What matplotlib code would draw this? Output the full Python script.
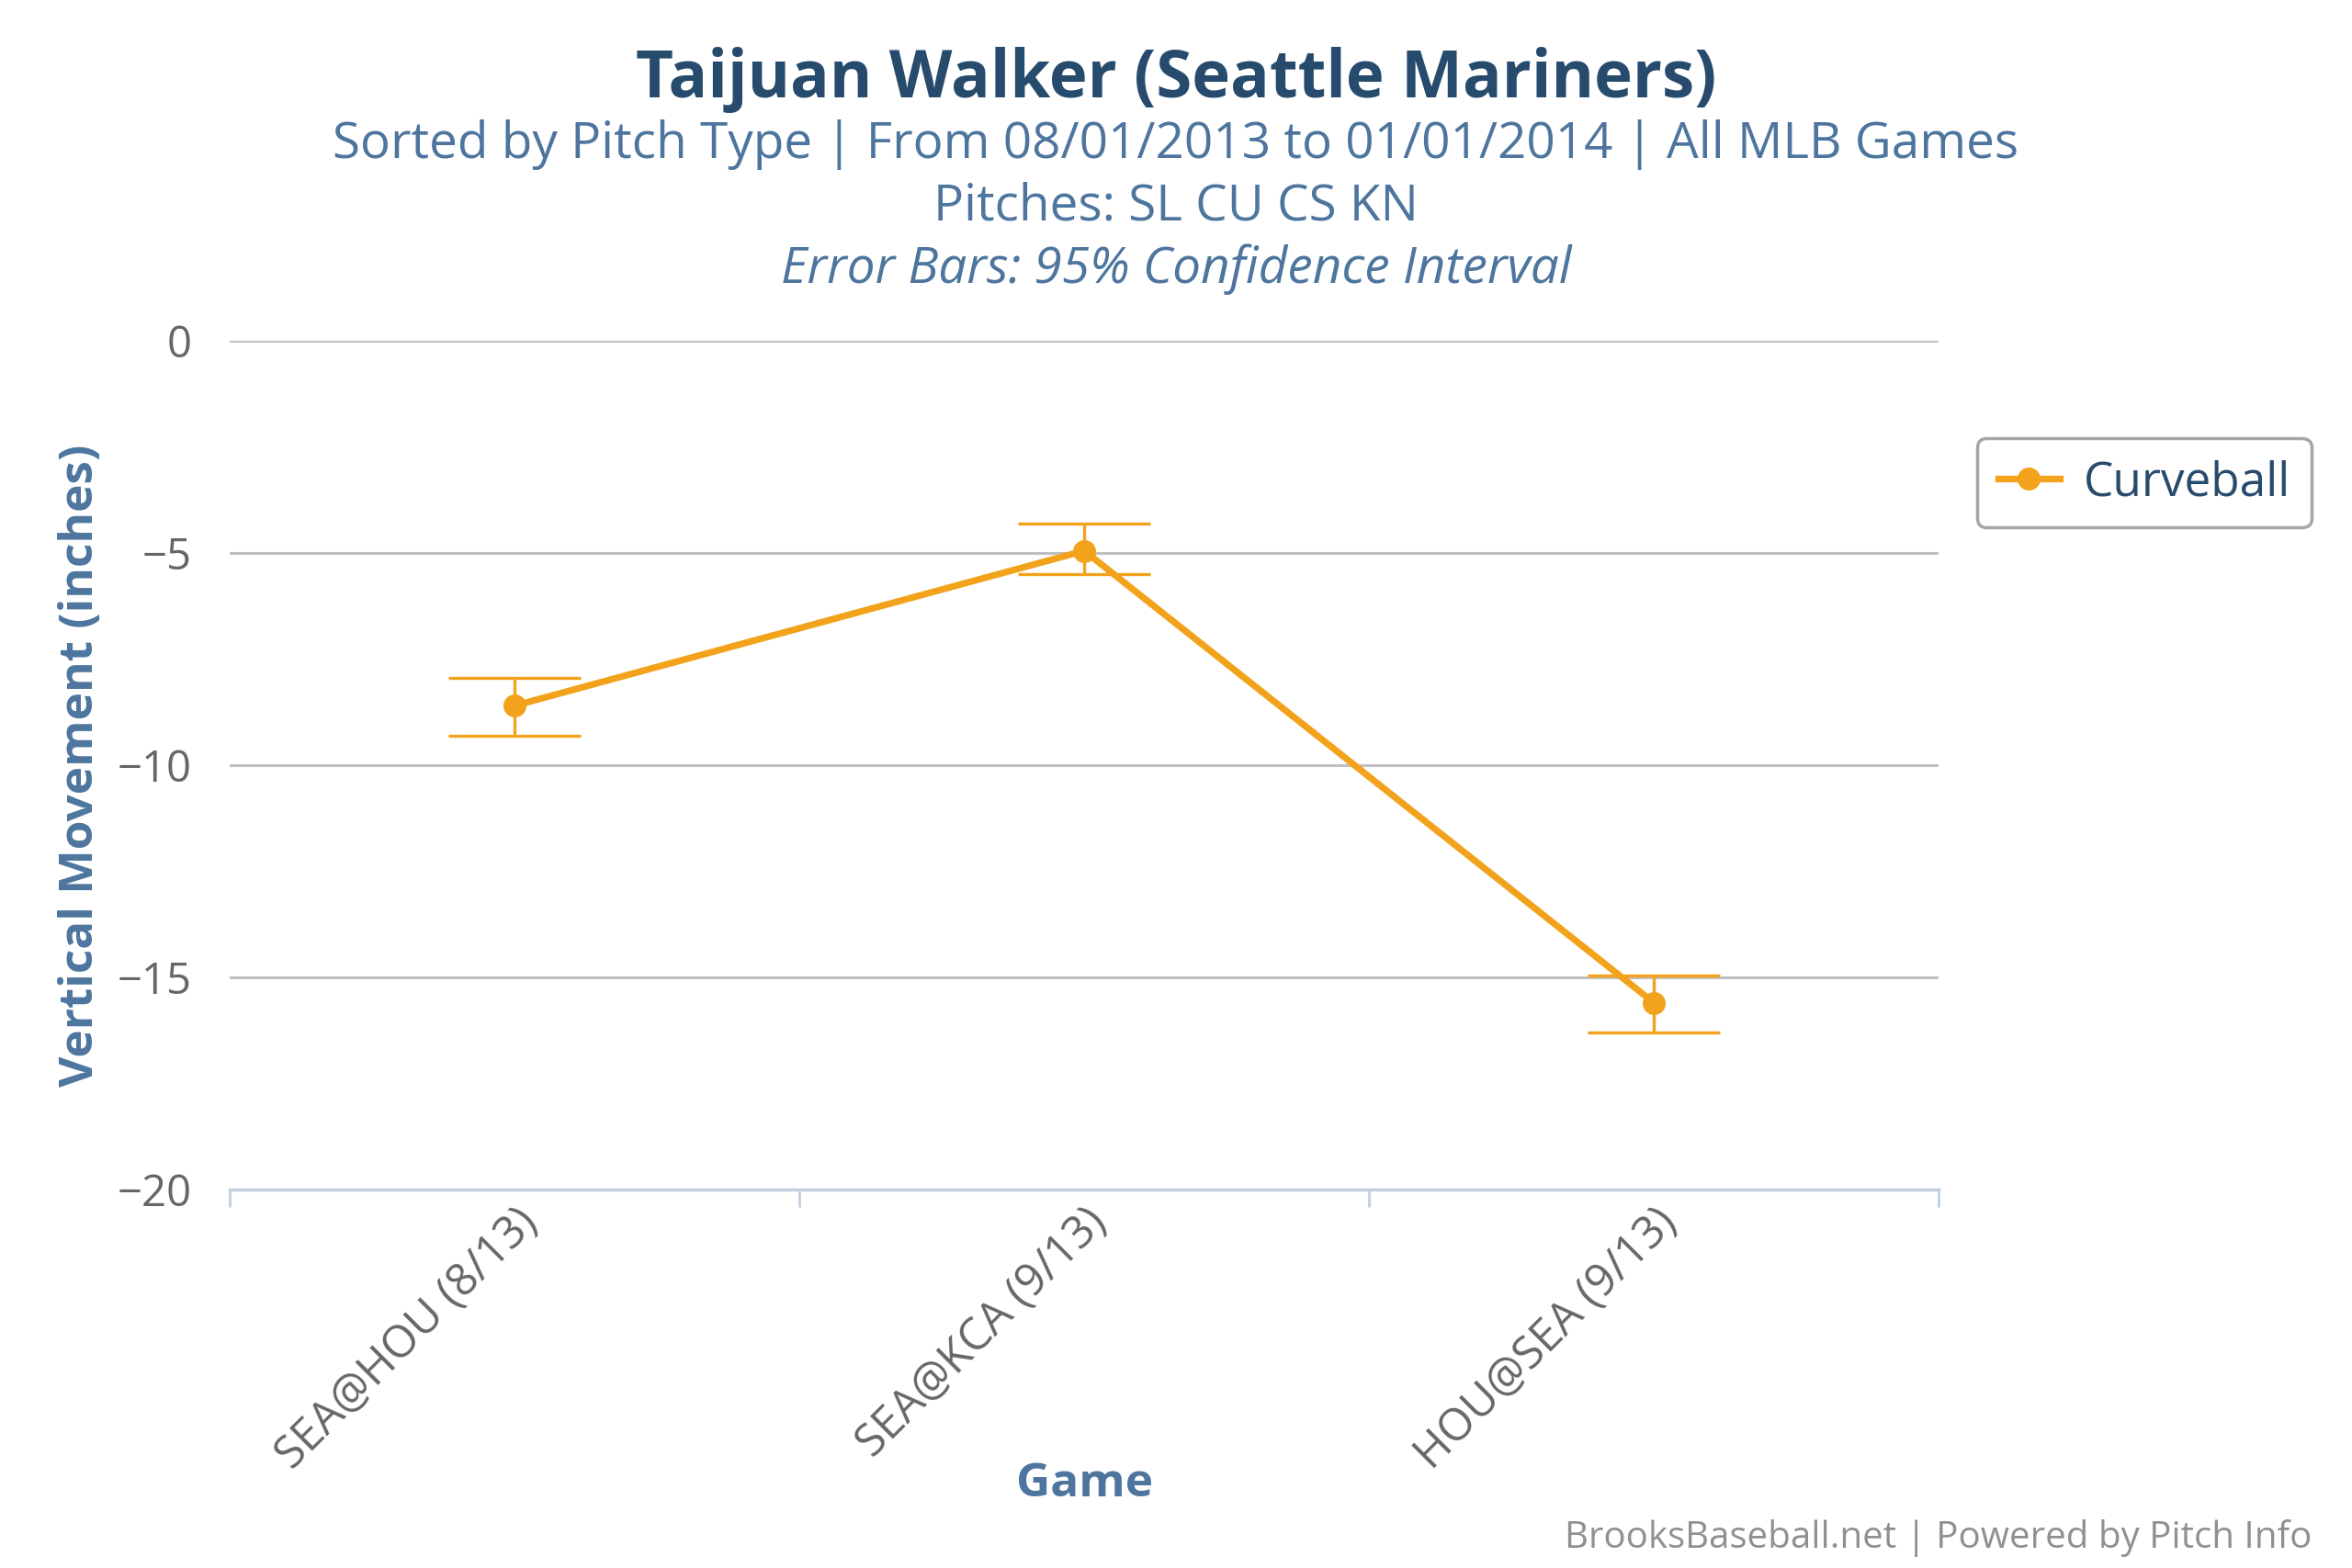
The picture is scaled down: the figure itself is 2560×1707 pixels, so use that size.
import matplotlib
matplotlib.use("Agg")
import matplotlib.pyplot as plt
import numpy as np

# data
games = ["SEA@HOU (8/13)", "SEA@KCA (9/13)", "HOU@SEA (9/13)"]
curveball = [-8.6, -4.95, -15.6]
ci_low = [-9.3, -5.5, -16.3]
ci_high = [-7.95, -4.3, -14.95]

orange = "#f2a31b"
dark_blue = "#274b6d"
mid_blue = "#4d759e"

plt.rcParams["font.family"] = ["Open Sans", "DejaVu Sans"]

fig = plt.figure(figsize=(25.6, 17.07), dpi=100)
ax = fig.add_axes([0.0977, 0.2414, 0.7266, 0.5413])

x = np.arange(len(games))
y = np.array(curveball)
yerr = [y - np.array(ci_low), np.array(ci_high) - y]

ax.errorbar(x, y, yerr=yerr, fmt="none", ecolor=orange, elinewidth=2.4,
            capsize=52, capthick=2.4, zorder=3)
ax.plot(x, y, color=orange, lw=5.2, marker="o", markersize=17,
        label="Curveball", zorder=4)

ax.set_xlim(-0.5, len(games) - 0.5)
ax.set_ylim(-20, 0)
ax.set_yticks([0, -5, -10, -15, -20])
ax.set_yticklabels(["0", "\u22125", "\u221210", "\u221215", "\u221220"])
ax.yaxis.grid(True, color="#c0c0c0", lw=2.2)
ax.set_axisbelow(True)

# category boundary ticks on the x axis
ax.set_xticks(np.arange(len(games) + 1) - 0.5, minor=False)
ax.set_xticklabels([])
ax.set_xticks(x, minor=True)
ax.set_xticklabels(games, minor=True, rotation=45, ha="right",
                   rotation_mode="anchor", fontsize=35, color="#666666")
ax.tick_params(axis="x", which="major", length=14, width=2, color="#c0d0e0")
ax.tick_params(axis="x", which="minor", length=0, pad=8)
ax.tick_params(axis="y", length=0, labelsize=34, labelcolor="#666666", pad=30)

for s in ["top", "right", "left"]:
    ax.spines[s].set_visible(False)
ax.spines["bottom"].set_color("#c0d0e0")
ax.spines["bottom"].set_linewidth(2.5)

ax.set_xlabel("Game", fontsize=37, fontweight="bold", color=mid_blue,
              va="center")
ax.xaxis.set_label_coords(0.5, -0.348)
ax.set_ylabel("Vertical Movement (inches)", fontsize=37, fontweight="bold",
              color=mid_blue, va="center")
ax.yaxis.set_label_coords(-0.087, 0.5)

# titles
fig.text(0.5, 0.949, "Taijuan Walker (Seattle Mariners)", ha="center",
         va="center", fontsize=51, fontweight="bold", color=dark_blue)
fig.text(0.5, 0.908, "Sorted by Pitch Type | From 08/01/2013 to 01/01/2014 | All MLB Games",
         ha="center", va="center", fontsize=39.5, color=mid_blue)
fig.text(0.5, 0.868, "Pitches: SL CU CS KN", ha="center", va="center",
         fontsize=39.5, color=mid_blue)
fig.text(0.5, 0.828, "Error Bars: 95% Confidence Interval", ha="center",
         va="center", fontsize=39.5, color=mid_blue, style="italic")

leg = fig.legend(loc="center left", bbox_to_anchor=(0.8305, 0.692),
                 fontsize=37, frameon=True, fancybox=True, handlelength=1.3,
                 borderpad=0.45, handletextpad=0.5, labelcolor=dark_blue)
leg.get_frame().set_edgecolor("#909090")
leg.get_frame().set_linewidth(2.5)

fig.text(0.983, 0.019, "BrooksBaseball.net | Powered by Pitch Info", ha="right",
         va="center", fontsize=29, color="#909090")

fig.savefig("out.png", dpi=100, facecolor="white")
